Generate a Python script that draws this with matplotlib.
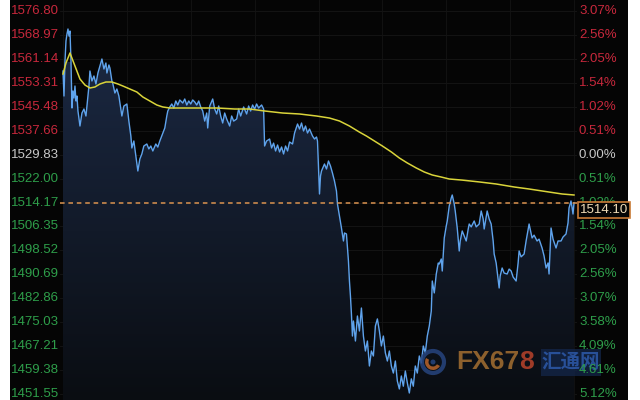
import numpy as np
import matplotlib
matplotlib.use('Agg')
import matplotlib.pyplot as plt
from matplotlib.patches import Rectangle, Circle, Wedge

#%% data (minute index, price)
t = [0, 1, 2, 3, 4, 5, 6, 7, 8, 9, 10, 11, 12, 13, 14, 15, 17, 19, 21, 23,
     24, 26, 27, 29, 31, 33, 35, 37, 39, 41, 43, 44, 46, 47, 49, 50, 52, 54, 56, 59,
     61, 64, 66, 68, 69, 71, 73, 75, 77, 79, 81, 84, 86, 88, 90, 93, 95, 97, 100, 102,
     104, 105, 107, 109, 111, 113, 115, 117, 120, 122, 124, 126, 128, 130, 132, 134,
     136, 138, 140, 142, 144, 145, 147, 150, 152, 154, 156, 158, 160, 162, 164, 167,
     169, 171, 174, 176, 178, 181, 184, 186, 188, 190, 192, 194, 196, 199, 201, 202,
     204, 207, 209, 211, 213, 215, 217, 219, 221, 223, 225, 227, 230, 232, 235, 237,
     239, 241, 243, 245, 247, 250, 252, 254, 255, 257, 258, 259, 262, 264, 266, 268,
     270, 272, 274, 275, 277, 279, 281, 282, 284, 286, 287, 288, 289, 290, 291, 293,
     295, 297, 299, 301, 303, 305, 307, 309, 311, 313, 315, 317, 319, 321, 323, 325,
     327, 329, 331, 333, 335, 337, 339, 341, 343, 345, 347, 349, 351, 353, 355, 357,
     359, 361, 363, 365, 367, 369,
     370, 372, 374, 376, 377, 379, 380, 382, 384, 385, 387, 389, 390, 392, 393, 395,
     397, 398, 400, 402, 404, 406, 407, 409, 412, 414, 417, 419, 421, 422, 424, 425,
     427, 429, 431, 432, 434, 435, 437, 438, 440, 442, 445, 447, 449, 451, 454, 456,
     457, 459, 462, 464, 467, 469, 470, 472, 475, 477, 480, 482, 484, 486, 487, 488,
     489, 491, 494, 496, 499, 501, 504, 506, 507, 509, 510, 511, 512]
price = [1557.18, 1549.00, 1560.45, 1567.00, 1569.28, 1570.91, 1568.60, 1570.26,
         1560.45, 1545.08, 1550.64, 1548.35, 1552.27, 1547.37, 1549.00, 1544.10,
         1539.19, 1543.44, 1544.75, 1542.46, 1545.73, 1552.27, 1557.18, 1553.91,
         1555.55, 1552.93, 1556.52, 1558.81, 1561.10, 1557.83, 1559.80, 1556.52,
         1559.14, 1558.16, 1553.91, 1552.93, 1549.98, 1551.30, 1549.00, 1542.46,
         1545.73, 1546.39, 1540.80, 1535.92, 1532.00, 1534.29, 1529.38, 1524.48,
         1528.40, 1530.04, 1532.65, 1533.31, 1531.70, 1532.65, 1531.02, 1533.31,
         1532.30, 1534.29, 1536.90, 1538.54, 1542.46, 1544.10, 1545.41, 1546.39,
         1545.08, 1547.37, 1546.06, 1547.70, 1546.71, 1548.02, 1546.06, 1547.37,
         1546.39, 1547.70, 1547.04, 1546.06, 1547.37, 1545.41, 1544.10, 1540.80,
         1543.44, 1538.54, 1545.73, 1548.02, 1544.75, 1543.12, 1545.73, 1542.46,
         1540.17, 1543.44, 1541.48, 1539.19, 1542.46, 1540.80, 1541.48, 1544.75,
         1542.46, 1545.41, 1543.12, 1545.73, 1544.10, 1546.06, 1544.75, 1546.39,
         1545.08, 1546.06, 1544.75, 1532.65, 1534.29, 1534.94, 1532.00, 1533.60,
         1531.02, 1532.98, 1530.70, 1532.33, 1530.04, 1532.65, 1531.02, 1533.96,
         1533.31, 1536.90, 1539.85, 1538.20, 1540.17, 1537.56, 1539.19, 1536.90,
         1538.20, 1535.92, 1534.94, 1535.60, 1534.29, 1516.96, 1522.84, 1524.48,
         1526.77, 1525.13, 1527.75, 1526.11, 1523.80, 1521.21, 1517.90, 1513.69,
         1509.76, 1505.84, 1501.59, 1504.20, 1503.88, 1495.05, 1488.50, 1483.60,
         1477.71, 1470.50, 1475.42, 1468.88, 1477.06, 1472.15, 1479.67, 1470.50,
         1465.61, 1468.88, 1460.71, 1465.61, 1463.98, 1473.80, 1476.10, 1472.15,
         1467.25, 1470.50, 1465.00, 1462.34, 1465.61, 1460.71, 1458.40, 1462.34,
         1455.80, 1453.20, 1457.44, 1454.10, 1459.07, 1455.20, 1451.88, 1456.50,
         1454.10, 1460.71, 1458.40, 1463.98, 1461.70, 1467.25, 1465.00, 1470.50,
         1473.80, 1478.69, 1488.50, 1484.60, 1490.79, 1494.40, 1494.07, 1495.70,
         1491.77, 1502.57, 1506.50, 1508.13, 1513.03, 1515.65, 1516.63, 1513.69,
         1511.40, 1505.84, 1498.32, 1501.59, 1504.86, 1503.20, 1501.59, 1505.51,
         1507.14, 1506.20, 1508.13, 1506.20, 1507.14, 1511.40, 1508.80, 1505.51,
         1509.40, 1511.40, 1508.80, 1507.14, 1501.59, 1497.33, 1494.40, 1491.77,
         1486.22, 1490.10, 1492.76, 1491.10, 1490.79, 1492.40, 1491.77, 1489.80,
         1488.50, 1494.40, 1498.32, 1496.40, 1497.33, 1501.59, 1507.14, 1504.20,
         1502.57, 1503.50, 1501.59, 1502.20, 1499.30, 1496.70, 1492.76, 1494.40,
         1490.79, 1498.32, 1505.84, 1502.20, 1499.30, 1501.59, 1501.59, 1502.90,
         1503.88, 1507.50, 1512.38, 1514.67, 1512.70, 1510.41, 1514.10]

t_ma = [0, 3, 7, 12, 17, 22, 27, 32, 37, 43, 49, 55, 60, 67, 74, 80, 87, 94,
        100, 107, 120, 137, 154, 172, 187, 202, 220, 237, 254, 267, 277, 287,
        297, 304, 312, 320, 329, 337, 345, 354, 362, 370, 379, 387, 400, 417,
        434, 452, 467, 487, 500, 512]
ma = [1556.20, 1559.80, 1563.07, 1558.81, 1554.56, 1552.60, 1551.62, 1551.95,
      1552.93, 1553.58, 1553.58, 1552.93, 1552.27, 1551.29, 1550.31, 1548.68,
      1547.37, 1546.06, 1545.41, 1545.08, 1545.08, 1545.08, 1545.08, 1544.75,
      1544.75, 1544.10, 1543.44, 1543.12, 1542.46, 1541.80, 1540.83, 1539.19,
      1537.20, 1535.92, 1534.29, 1532.65, 1530.70, 1528.73, 1527.10, 1525.46,
      1524.15, 1523.17, 1522.50, 1521.86, 1521.50, 1520.90, 1520.23, 1519.25,
      1518.59, 1517.60, 1516.96, 1516.63]

ticks = [1576.80, 1568.97, 1561.14, 1553.31, 1545.48, 1537.66, 1529.83, 1522.00,
         1514.17, 1506.35, 1498.52, 1490.69, 1482.86, 1475.03, 1467.21, 1459.38,
         1451.55]
pct = ['3.07%', '2.56%', '2.05%', '1.54%', '1.02%', '0.51%', '0.00%', '0.51%',
       '1.02%', '1.54%', '2.05%', '2.56%', '3.07%', '3.58%', '4.09%', '4.61%',
       '5.12%']
prev_close = 1529.83
last = 1514.10

#%% figure
RED = '#c8283c'
GREEN = '#2e9e4a'
GREY = '#c8c8c8'
plt.rcParams['font.family'] = ['Liberation Sans', 'DejaVu Sans']

fig = plt.figure(figsize=(6.4, 4.0), dpi=100, facecolor='white')
bg = fig.add_axes([10/640, 0, 618/640, 1])
bg.set_facecolor('#050505')
bg.set_xticks([]); bg.set_yticks([])
for s in bg.spines.values():
    s.set_visible(False)

ax = fig.add_axes([60/640, 0, 517/640, 1])
ax.set_facecolor('#050505')
ylo = 1451.55 - 6*0.327
yhi = 1576.80 + 11*0.327
for s in ax.spines.values():
    s.set_visible(False)
ax.tick_params(left=False, bottom=False, labelleft=False, labelbottom=False)

# faint grid
for v in ticks:
    ax.axhline(v, color='#161616', lw=0.6, zorder=0)
for v in np.arange(0, 515, 64):
    ax.axvline(v, color='#141414', lw=0.6, zorder=0)

# gradient fill under the price line
grad = np.linspace(0, 1, 256).reshape(-1, 1)
cmap = matplotlib.colors.LinearSegmentedColormap.from_list('f', ['#0a0d12', '#1a2740'])
poly = ax.fill_between(t, price, ylo, color='none', lw=0)
img = ax.imshow(grad, cmap=cmap, aspect='auto', origin='lower',
                extent=[-3, 515, ylo, 1560], zorder=1)
img.set_clip_path(poly.get_paths()[0], transform=ax.transData)
ax.set_xlim(-3, 515)
ax.set_ylim(ylo, yhi)

ax.plot(t, price, color='#5fa3ec', lw=1.0, zorder=3)
ax.plot(t_ma, ma, color='#d9d43a', lw=1.1, zorder=4)

# last price line
ax.axhline(1514.17, color='#dc9450', lw=1.1, ls=(0, (3, 2.5)), zorder=5)

# watermark (under the axis labels)
wm = fig.add_axes([420/640, 0, 220/640, 90/400])
wm.set_xlim(0, 220); wm.set_ylim(0, 90)
wm.axis('off')
wm.add_patch(Circle((13, 38), 11, fc='none', ec='#27457f', lw=3, alpha=0.85))
wm.add_patch(Wedge((13, 38), 8, 150, 330, width=3.5, fc='#b0602a', alpha=0.9))
wm.add_patch(Circle((13, 38), 2.5, fc='#27457f', alpha=0.85))
t1 = wm.text(36, 38, 'FX67', color='#9c6a30', fontsize=19, fontweight='bold',
             va='center', ha='left', alpha=0.9)
fig.canvas.draw()
bb = t1.get_window_extent().transformed(wm.transData.inverted())
wm.text(bb.x1, 38, '8', color='#b0402a', fontsize=19, fontweight='bold',
        va='center', ha='left', alpha=0.9)
wm.add_patch(Rectangle((121, 24), 60, 27, fc='#14284d', ec='none', alpha=0.7))
wm.text(151, 38, '汇通网', color='#2b56a3', fontsize=14, fontweight='bold',
        va='center', ha='center', family=['Noto Sans CJK SC', 'DejaVu Sans'], alpha=0.9)

# axis labels (figure level so they sit above the watermark)
def lab_color(v):
    if abs(v - prev_close) < 0.01:
        return GREY
    return RED if v > prev_close else GREEN

for v, p in zip(ticks, pct):
    c = lab_color(v)
    fig.text(-4, v, f'{v:.2f}', transform=ax.transData, ha='right', va='center',
             color=c, fontsize=9.5)
    fig.text(517, v, p, transform=ax.transData, ha='left', va='center',
             color=c, fontsize=9.5)

# last price box
fig.text(518, last - 2.4, f'{last:.2f}', transform=ax.transData, ha='left',
         va='center', color='#f0dcb8', fontsize=9.5, zorder=10,
         bbox=dict(boxstyle='square,pad=0.15', fc='#050505', ec='#c87a36', lw=1.2))

fig.savefig('out.png', dpi=100, facecolor='white')
